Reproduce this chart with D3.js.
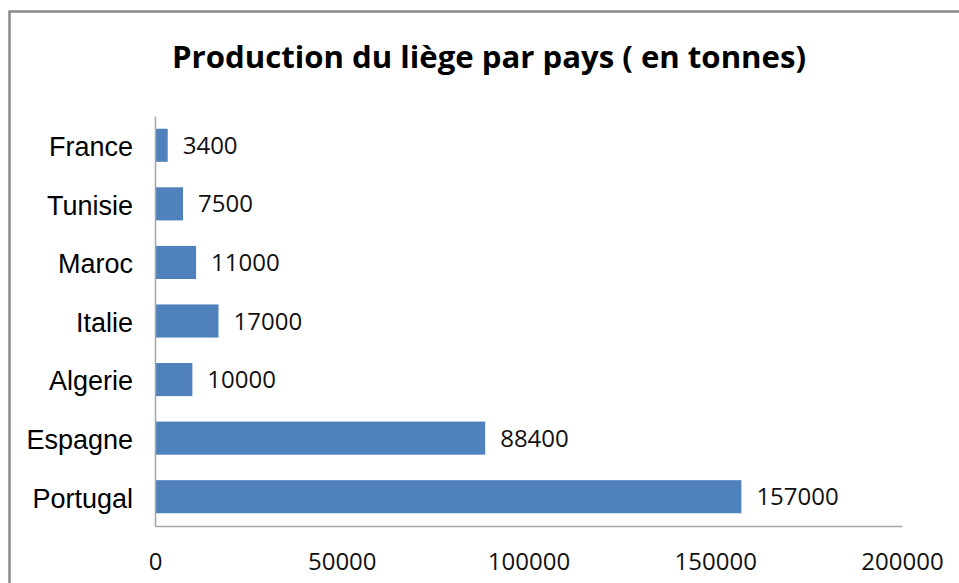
<!DOCTYPE html>
<html>
<head>
<meta charset="utf-8">
<script src="https://cdn.jsdelivr.net/npm/d3@7"></script>
<style>
  body { margin: 0; background: #fff; }
</style>
</head>
<body>
<div id="chart"></div>
<script>
const categories = ['France', 'Tunisie', 'Maroc', 'Italie', 'Algerie', 'Espagne', 'Portugal']
const values = [3400, 7500, 11000, 17000, 10000, 88400, 157000]
const xTicks = [0, 50000, 100000, 150000, 200000]
const title = 'Production du liège par pays ( en tonnes)'

const width = 959
const height = 583
const margin = { top: 116, right: 57, bottom: 57, left: 155 }
const innerW = width - margin.left - margin.right
const innerH = height - margin.top - margin.bottom

const rows = categories.map((c, i) => ({ country: c, value: values[i] }))

const svg = d3.select('#chart').append('svg')
  .attr('width', width)
  .attr('height', height)
  .attr('viewBox', [0, 0, width, height])

// outer frame (runs past the right and bottom edge)
svg.append('rect')
  .attr('x', 9.5)
  .attr('y', 11.5)
  .attr('width', width + 20)
  .attr('height', height + 20)
  .attr('fill', '#fff')
  .attr('stroke', '#8a8a8a')
  .attr('stroke-width', 2.5)

svg.append('text')
  .attr('x', 489)
  .attr('y', 68)
  .attr('text-anchor', 'middle')
  .attr('textLength', 634)
  .attr('lengthAdjust', 'spacingAndGlyphs')
  .style('font-family', '"Open Sans", sans-serif')
  .style('font-size', '31px')
  .style('font-weight', '700')
  .style('fill', '#000')
  .text(title)

const g = svg.append('g')
  .attr('transform', `translate(${margin.left}, ${margin.top})`)

const x = d3.scaleLinear()
  .domain([0, 200000])
  .range([0, innerW])

const y = d3.scaleBand()
  .domain(categories)
  .range([0, innerH])
  .paddingInner(0.435)
  .paddingOuter(0.2175)

g.selectAll('.bar')
  .data(rows)
  .join('rect')
  .attr('class', 'bar')
  .attr('x', 0)
  .attr('y', d => y(d.country))
  .attr('width', d => x(d.value))
  .attr('height', y.bandwidth())
  .attr('fill', '#4f81bd')

g.selectAll('.value')
  .data(rows)
  .join('text')
  .attr('class', 'value')
  .attr('x', d => x(d.value) + 15)
  .attr('y', d => y(d.country) + y.bandwidth() / 2)
  .attr('dy', '0.36em')
  .style('font-family', '"Open Sans", sans-serif')
  .style('font-size', '24px')
  .style('fill', '#111')
  .text(d => d.value)

const xAxis = g.append('g')
  .attr('transform', `translate(0, ${innerH})`)
  .call(d3.axisBottom(x).tickValues(xTicks).tickSize(0).tickPadding(27).tickFormat(d3.format('d')))

xAxis.select('.domain').attr('stroke', '#a6a6a6').attr('stroke-width', 1.5)
xAxis.selectAll('text')
  .style('font-family', '"Open Sans", sans-serif')
  .style('font-size', '24px')
  .style('fill', '#111')

const yAxis = g.append('g')
  .call(d3.axisLeft(y).tickSize(0).tickPadding(22))

yAxis.select('.domain').attr('stroke', '#a6a6a6').attr('stroke-width', 1.5)
yAxis.selectAll('text')
  .attr('dy', '0.4em')
  .style('font-family', '"Liberation Sans", Arial, sans-serif')
  .style('font-size', '27px')
  .style('fill', '#000')
</script>
</body>
</html>
